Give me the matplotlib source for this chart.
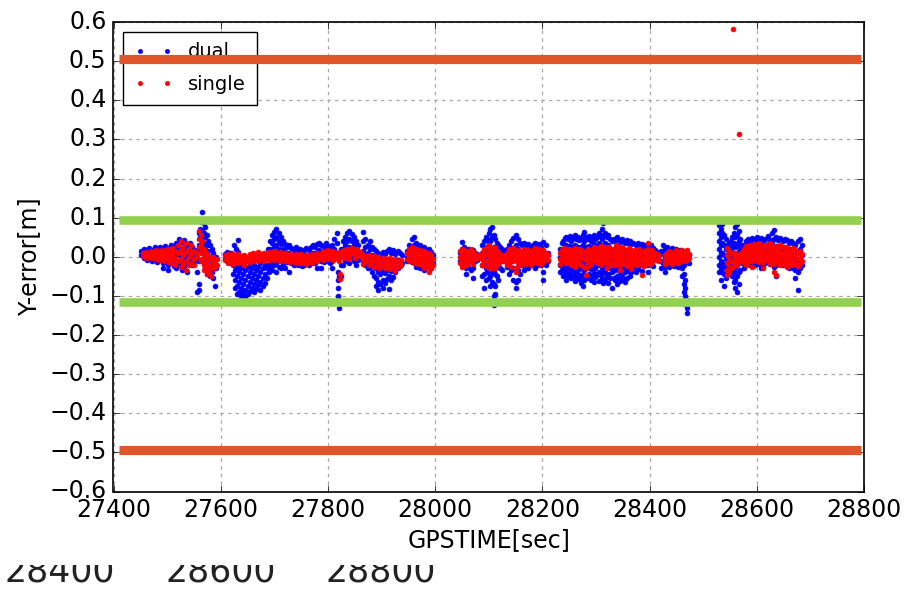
import numpy as np
import matplotlib
matplotlib.use("Agg")
import matplotlib.pyplot as plt
from matplotlib.patches import Rectangle

# ---------------- data ----------------
x_ticks = [27400, 27600, 27800, 28000, 28200, 28400, 28600, 28800]
y_ticks = [-0.6, -0.5, -0.4, -0.3, -0.2, -0.1, 0.0, 0.1, 0.2, 0.3, 0.4, 0.5, 0.6]
series_labels = ["dual", "single"]

# threshold bands
orange_levels = [0.505, -0.495]
green_levels = [0.093, -0.115]
band_x = [27411, 28795]

# dual-frequency Y error: time and the values observed around it
dual_time = [
    27452, 27457, 27462, 27467, 27472, 27477, 27482, 27487, 27492, 27497, 27502, 27507, 27512, 27517, 27522, 27527, 27532, 27537, 27542, 27547, 27552,
    27556, 27559, 27562, 27565, 27568, 27571, 27574, 27577, 27580, 27583, 27586, 27589, 27592,
    27608, 27612, 27616, 27620, 27624, 27628, 27632,
    27622, 27626, 27630, 27634, 27638, 27642, 27646, 27650, 27654, 27658, 27662, 27666, 27670, 27674, 27678, 27682, 27686, 27690,
    27688, 27692, 27696, 27700, 27704, 27708, 27712, 27716, 27720, 27724, 27728, 27732, 27736, 27740, 27744, 27748, 27752, 27756, 27760, 27764,
    27768, 27772, 27776, 27780, 27784, 27788, 27792, 27796, 27800, 27804, 27808, 27812, 27816, 27819, 27821, 27824, 27828, 27832, 27836, 27840,
    27844, 27848, 27852, 27856,
    27866, 27870, 27874, 27878, 27882, 27886, 27890, 27894, 27898, 27902, 27906, 27910, 27914, 27918, 27922, 27926, 27930, 27934, 27938,
    27948, 27952, 27956, 27960, 27964, 27968, 27972, 27976, 27980, 27984, 27988, 27992, 27996,
    28046, 28050, 28054, 28058, 28062, 28066, 28070, 28074, 28078,
    28088, 28091, 28094, 28097, 28100, 28103, 28106, 28109, 28112, 28115, 28118, 28121, 28124, 28127,
    28134, 28138, 28142, 28146, 28150, 28154, 28158, 28162, 28166, 28170, 28174, 28178, 28182, 28186, 28190, 28194, 28198, 28202, 28206, 28210,
    28233, 28236, 28239, 28242, 28245, 28248, 28251, 28254, 28257, 28260, 28263, 28266, 28269, 28272, 28275, 28278, 28281, 28284, 28287, 28290,
    28293, 28296, 28299, 28302, 28305, 28308, 28311, 28314, 28317, 28320, 28323, 28326, 28329,
    28333, 28336, 28339, 28342, 28345, 28348, 28351, 28354, 28357, 28360, 28363, 28366, 28370, 28374, 28378, 28382, 28386, 28390, 28394, 28398,
    28402, 28406, 28410, 28414,
    28421, 28425, 28429, 28433, 28437, 28441, 28445, 28449, 28453, 28457, 28461, 28464, 28467, 28470, 28473,
    28530, 28533, 28536, 28539, 28542, 28545, 28548, 28551, 28554, 28557, 28560, 28563, 28566, 28569, 28572,
    28576, 28580, 28584, 28588, 28592, 28596, 28600, 28604, 28608, 28612, 28616, 28620, 28624, 28628, 28632, 28636, 28640, 28644, 28648, 28652,
    28656, 28660, 28664, 28668, 28672, 28676, 28680, 28684,
]
dual_yerr = [
    [0.015, 0.005], [0.020, 0.008, -0.004], [0.018, 0.002, -0.008], [0.022, 0.010, -0.002], [0.016, 0.004, -0.010],
    [0.024, 0.012, -0.004], [0.018, 0.000, -0.014], [0.026, 0.010, -0.008], [0.020, 0.002, -0.016, -0.028], [0.028, 0.012, -0.010],
    [0.022, 0.004, -0.020, -0.035], [0.030, 0.010, -0.012], [0.024, 0.002, -0.024], [0.034, 0.014, -0.014, -0.030],
    [0.045, 0.026, 0.004, -0.022], [0.038, 0.016, -0.010, -0.034], [0.042, 0.020, -0.004, -0.028], [0.030, 0.008, -0.018, -0.038],
    [0.036, 0.014, -0.010], [0.026, 0.004, -0.020], [0.018, 0.000, -0.012],
    [0.010, -0.040, -0.089], [0.060, 0.030, -0.010, -0.070, -0.085], [0.095, 0.070, 0.050, 0.020], [0.114, 0.090, 0.065, 0.040, 0.015],
    [0.085, 0.060, 0.035, 0.010, -0.015], [0.075, 0.050, 0.025, 0.000, -0.030], [0.055, 0.030, 0.005, -0.020, -0.045],
    [0.040, 0.015, -0.010, -0.035], [0.030, 0.000, -0.025, -0.050], [0.020, -0.010, -0.040], [0.010, -0.020, -0.055],
    [-0.030, -0.076], [0.000, -0.030],
    [0.008, -0.006], [0.012, 0.000, -0.012], [0.006, -0.008], [0.010, -0.004, -0.016], [0.030, 0.004, -0.010],
    [0.020, 0.000, -0.014], [0.043, 0.012, -0.006],
    [-0.020, -0.045], [-0.035, -0.060, -0.080], [-0.025, -0.050, -0.075, -0.095], [-0.015, -0.040, -0.065, -0.090],
    [-0.030, -0.055, -0.080, -0.100], [-0.020, -0.045, -0.070, -0.092], [-0.035, -0.060, -0.085, -0.104],
    [-0.025, -0.050, -0.075, -0.095], [-0.015, -0.040, -0.065, -0.088], [-0.030, -0.055, -0.080],
    [-0.020, -0.045, -0.070, -0.090], [-0.035, -0.060, -0.082], [-0.025, -0.050, -0.072], [-0.015, -0.040, -0.065, -0.085],
    [-0.030, -0.055, -0.075], [-0.020, -0.045, -0.068], [-0.030, -0.055], [-0.020, -0.040],
    [0.020, 0.000, -0.020], [0.040, 0.020, 0.000, -0.025], [0.055, 0.035, 0.012, -0.012, -0.035], [0.063, 0.045, 0.025, 0.005, -0.020],
    [0.070, 0.050, 0.030, 0.010, -0.015, -0.040], [0.060, 0.040, 0.020, 0.000, -0.025], [0.050, 0.032, 0.012, -0.010, -0.030],
    [0.040, 0.020, 0.000, -0.020], [0.032, 0.012, -0.008, -0.028], [0.025, 0.006, -0.014], [0.030, 0.010, -0.010, -0.040],
    [0.022, 0.004, -0.016], [0.018, 0.000, -0.020], [0.024, 0.006, -0.014], [0.016, -0.002, -0.022], [0.020, 0.002, -0.018],
    [0.014, -0.004, -0.024], [0.018, 0.000, -0.020], [0.022, 0.004, -0.016], [0.016, -0.002, -0.022],
    [0.024, 0.006, -0.014], [0.030, 0.010, -0.010], [0.026, 0.006, -0.016], [0.032, 0.012, -0.008, -0.028], [0.036, 0.016, -0.004],
    [0.030, 0.010, -0.012, -0.030], [0.026, 0.006, -0.014], [0.034, 0.014, -0.006], [0.028, 0.008, -0.012], [0.024, 0.004, -0.016],
    [0.030, 0.010, -0.010, -0.030], [0.045, 0.020, -0.005], [0.060, 0.035, 0.010], [-0.040, -0.060, -0.080, -0.100],
    [-0.110, -0.131, -0.050], [0.020, -0.020, -0.050], [0.040, 0.020, 0.000, -0.020], [0.050, 0.030, 0.010, -0.010],
    [0.060, 0.040, 0.020, 0.000], [0.066, 0.045, 0.025, 0.005, -0.015],
    [0.059, 0.040, 0.020, 0.000], [0.050, 0.030, 0.010, -0.010], [0.040, 0.020, 0.000, -0.020], [0.030, 0.012, -0.008],
    [0.064, 0.040, 0.015, -0.010], [0.045, 0.025, 0.005, -0.020], [0.030, 0.010, -0.010, -0.030], [0.040, 0.020, 0.000, -0.025],
    [0.025, 0.005, -0.018, -0.040], [0.020, 0.000, -0.025, -0.050], [0.015, -0.008, -0.030, -0.055, -0.075],
    [0.010, -0.015, -0.040, -0.065, -0.085], [0.005, -0.020, -0.045, -0.070], [0.012, -0.012, -0.035, -0.060, -0.080],
    [0.008, -0.018, -0.042, -0.068], [0.015, -0.010, -0.035, -0.058], [0.020, -0.005, -0.030, -0.050, -0.082],
    [0.010, -0.012, -0.036, -0.060], [0.016, -0.008, -0.030, -0.052], [0.008, -0.016, -0.040], [0.014, -0.008, -0.030],
    [0.010, -0.010, -0.024], [0.005, -0.015],
    [0.015, 0.000, -0.012], [0.030, 0.010, -0.008], [0.045, 0.022, 0.004, -0.014], [0.050, 0.030, 0.010, -0.010],
    [0.035, 0.015, -0.005, -0.025], [0.025, 0.005, -0.015], [0.030, 0.010, -0.010, -0.030], [0.022, 0.002, -0.018],
    [0.026, 0.006, -0.014, -0.034], [0.018, 0.000, -0.020], [0.020, -0.002, -0.025], [0.012, -0.008, -0.030], [0.005, -0.015],
    [0.010, -0.010], [0.038, 0.020, 0.000, -0.015], [0.025, 0.005, -0.020], [0.015, -0.005, -0.030, -0.045], [0.020, 0.000, -0.025],
    [0.012, -0.010, -0.035], [0.018, -0.004, -0.030, -0.055], [0.010, -0.010], [0.006, -0.008],
    [0.030, 0.010, -0.020, -0.050], [0.040, 0.015, -0.015, -0.045, -0.080], [0.050, 0.025, 0.000, -0.030, -0.060],
    [0.045, 0.020, -0.010, -0.040], [0.060, 0.035, 0.005, -0.025, -0.055], [0.070, 0.040, 0.010, -0.020, -0.050, -0.075],
    [0.076, 0.050, 0.020, -0.010, -0.040, -0.065], [0.055, 0.025, -0.005, -0.035, -0.070, -0.100, -0.123],
    [0.045, 0.015, -0.015, -0.045, -0.075, -0.095], [0.035, 0.010, -0.020, -0.050], [0.030, 0.005, -0.025, -0.060],
    [0.025, 0.000, -0.030], [0.020, -0.005, -0.035], [0.015, -0.010],
    [0.020, 0.000, -0.025], [0.030, 0.005, -0.020, -0.045], [0.040, 0.015, -0.010, -0.035], [0.048, 0.022, -0.005, -0.030, -0.060],
    [0.055, 0.030, 0.000, -0.030, -0.065, -0.080], [0.045, 0.020, -0.008, -0.035, -0.060], [0.035, 0.010, -0.018, -0.045],
    [0.030, 0.005, -0.020], [0.035, 0.012, -0.012, -0.035], [0.028, 0.004, -0.022], [0.032, 0.010, -0.014, -0.030],
    [0.025, 0.002, -0.022], [0.030, 0.008, -0.016], [0.036, 0.014, -0.008, -0.028], [0.028, 0.004, -0.020],
    [0.032, 0.010, -0.012], [0.024, 0.002, -0.022], [0.038, 0.014, -0.010, -0.040, -0.059], [0.030, 0.006, -0.020], [0.010, -0.010],
    [0.020, 0.000, -0.020, -0.040], [0.035, 0.010, -0.015, -0.035], [0.040, 0.018, -0.005, -0.030, -0.050],
    [0.048, 0.025, 0.000, -0.025, -0.045], [0.050, 0.030, 0.005, -0.020, -0.040, -0.060], [0.045, 0.020, -0.005, -0.030, -0.050],
    [0.052, 0.028, 0.004, -0.022, -0.045], [0.040, 0.015, -0.010, -0.035, -0.055], [0.048, 0.024, 0.000, -0.025, -0.048],
    [0.055, 0.030, 0.006, -0.018, -0.040, -0.062], [0.045, 0.020, -0.005, -0.030, -0.052], [0.050, 0.026, 0.002, -0.022, -0.045],
    [0.042, 0.018, -0.008, -0.032, -0.058], [0.048, 0.024, 0.000, -0.026, -0.050, -0.068], [0.055, 0.030, 0.005, -0.020, -0.045, -0.076],
    [0.063, 0.040, 0.015, -0.010, -0.035, -0.060], [0.050, 0.025, 0.000, -0.025, -0.050], [0.045, 0.020, -0.006, -0.030, -0.055],
    [0.052, 0.028, 0.004, -0.020, -0.045], [0.040, 0.016, -0.008, -0.032, -0.060],
    [0.048, 0.024, 0.000, -0.025, -0.050], [0.055, 0.032, 0.008, -0.018, -0.042, -0.065], [0.045, 0.020, -0.004, -0.028, -0.052],
    [0.050, 0.026, 0.002, -0.022, -0.046], [0.060, 0.036, 0.012, -0.014, -0.040, -0.062], [0.052, 0.028, 0.004, -0.020, -0.045],
    [0.070, 0.045, 0.020, -0.005, -0.030, -0.055], [0.085, 0.055, 0.030, 0.006, -0.018, -0.042, -0.066],
    [0.060, 0.035, 0.010, -0.015, -0.040, -0.060], [0.050, 0.025, 0.000, -0.025, -0.050], [0.055, 0.030, 0.006, -0.020, -0.044, -0.068],
    [0.045, 0.020, -0.006, -0.030, -0.055], [0.040, 0.014, -0.012, -0.038, -0.080],
    [0.045, 0.020, -0.005, -0.030, -0.055], [0.040, 0.015, -0.010, -0.035, -0.060], [0.050, 0.025, 0.000, -0.025, -0.050, -0.070],
    [0.045, 0.020, -0.005, -0.030, -0.055], [0.038, 0.012, -0.012, -0.038, -0.062], [0.046, 0.022, -0.002, -0.026, -0.050],
    [0.040, 0.016, -0.008, -0.034, -0.058], [0.035, 0.010, -0.014, -0.040, -0.065], [0.042, 0.018, -0.006, -0.030, -0.055],
    [0.036, 0.012, -0.012, -0.036], [0.040, 0.016, -0.008, -0.032, -0.050], [0.032, 0.008, -0.016, -0.040],
    [0.036, 0.012, -0.010, -0.030], [0.030, 0.006, -0.018, -0.038], [0.034, 0.010, -0.012, -0.032], [0.028, 0.004, -0.020],
    [0.032, 0.008, -0.014, -0.036], [0.026, 0.002, -0.022], [0.030, 0.006, -0.016], [0.024, 0.000, -0.020, -0.040],
    [0.030, 0.008, -0.012], [0.022, 0.000, -0.024], [0.018, -0.004], [0.012, -0.008],
    [0.015, -0.010, -0.030], [0.030, 0.008, -0.015], [0.020, 0.000, -0.025, -0.040], [0.025, 0.004, -0.018], [0.018, -0.004, -0.025],
    [0.022, 0.002, -0.020], [0.016, -0.004, -0.024], [0.020, 0.000, -0.020], [0.014, -0.006, -0.026], [0.018, -0.002, -0.022],
    [0.012, -0.010, -0.030, -0.050], [-0.020, -0.045, -0.070, -0.090], [-0.060, -0.080, -0.100, -0.120], [-0.110, -0.130, -0.143],
    [0.005, -0.015],
    [0.080, 0.060, 0.040, 0.020, 0.000, -0.020, -0.040], [0.070, 0.050, 0.030, 0.010, -0.010, -0.030, -0.060],
    [0.083, 0.060, 0.035, 0.010, -0.015, -0.040], [0.055, 0.030, 0.005, -0.020, -0.045, -0.076], [0.045, 0.020, -0.005, -0.030, -0.055],
    [0.030, 0.005, -0.020], [0.035, 0.010, -0.015], [0.040, 0.015, -0.010, -0.035], [0.050, 0.025, 0.000, -0.025, -0.050],
    [0.060, 0.035, 0.010, -0.015, -0.040, -0.065], [0.075, 0.050, 0.025, 0.000, -0.030, -0.060, -0.080],
    [0.083, 0.055, 0.030, 0.005, -0.020, -0.050, -0.089], [0.065, 0.040, 0.015, -0.010, -0.040, -0.070],
    [0.045, 0.020, -0.005, -0.035], [0.030, 0.010, -0.015],
    [0.030, 0.010, -0.010, -0.030], [0.040, 0.020, 0.000, -0.020], [0.045, 0.025, 0.005, -0.015], [0.038, 0.018, -0.002, -0.022],
    [0.048, 0.028, 0.008, -0.012], [0.042, 0.022, 0.002, -0.020], [0.050, 0.030, 0.010, -0.010], [0.044, 0.024, 0.004, -0.018],
    [0.048, 0.028, 0.008, -0.014, -0.030], [0.040, 0.020, 0.000, -0.022], [0.046, 0.026, 0.006, -0.016], [0.052, 0.032, 0.012, -0.010],
    [0.044, 0.024, 0.004, -0.018], [0.060, 0.038, 0.018, -0.004], [0.068, 0.045, 0.022, 0.000, -0.025], [0.050, 0.028, 0.006, -0.020, -0.050],
    [0.044, 0.024, 0.004, -0.018], [0.048, 0.028, 0.008, -0.014], [0.040, 0.020, 0.000, -0.022], [0.046, 0.026, 0.004, -0.018],
    [0.042, 0.022, 0.000, -0.024], [0.036, 0.016, -0.006, -0.028], [0.040, 0.020, -0.002, -0.024], [0.034, 0.014, -0.008, -0.030],
    [0.030, 0.010, -0.012, -0.035, -0.055], [0.040, 0.015, -0.010, -0.040, -0.084], [0.045, 0.020, -0.005, -0.030], [0.030, 0.005, -0.020],
]

# single-frequency Y error
single_time = [
    27455, 27460, 27465, 27470, 27475, 27480, 27485, 27490, 27495, 27500, 27505, 27510, 27515, 27520, 27525, 27530, 27535, 27540, 27545, 27550, 27555,
    27560, 27563, 27566, 27569, 27572, 27575, 27578, 27582, 27586, 27590, 27594,
    27608, 27613, 27618, 27623, 27628, 27633, 27638, 27643, 27648, 27655, 27660, 27665, 27670, 27675, 27680, 27685, 27690, 27695, 27700, 27705,
    27710, 27715, 27720, 27725, 27730, 27735, 27740, 27745, 27750, 27755, 27760, 27765, 27770, 27775, 27780, 27785, 27790, 27795, 27800, 27805,
    27810, 27815, 27820, 27823, 27826, 27830, 27835, 27840, 27845, 27850, 27855, 27860,
    27866, 27871, 27876, 27881, 27886, 27891, 27896, 27901, 27906, 27911, 27916, 27921, 27926, 27931, 27936,
    27948, 27952, 27956, 27960, 27964, 27968, 27972, 27976, 27980, 27984, 27988, 27992, 27996,
    28046, 28050, 28054, 28058, 28062, 28066, 28070, 28074, 28078, 28082,
    28088, 28092, 28096, 28100, 28104, 28108, 28112, 28116, 28120, 28124, 28128,
    28134, 28138, 28142, 28146, 28150, 28154, 28158, 28162, 28166, 28170, 28174, 28178, 28182, 28186, 28190, 28194, 28198, 28202, 28206, 28210,
    28233, 28237, 28241, 28245, 28249, 28253, 28257, 28261, 28265, 28269, 28273, 28277, 28281, 28285, 28289, 28293, 28297, 28301, 28305, 28309,
    28313, 28317, 28321, 28325, 28329,
    28333, 28337, 28341, 28345, 28349, 28353, 28357, 28361, 28365, 28369, 28373, 28377, 28381, 28385, 28389, 28393, 28397, 28401, 28405, 28409,
    28413, 28417,
    28429, 28433, 28437, 28441, 28445, 28449, 28453, 28457, 28461, 28465, 28469, 28473,
    28544, 28548, 28552, 28556, 28560, 28564, 28568, 28572,
    28576, 28580, 28584, 28588, 28592, 28596, 28600, 28604, 28608, 28612, 28616, 28620, 28624, 28628, 28632, 28636, 28640, 28644, 28648, 28652,
    28656, 28660, 28664, 28668, 28672, 28676, 28680, 28684,
    28555, 28566,
]
single_yerr = [
    [0.010, 0.002], [0.012, 0.004, -0.004], [0.008, 0.000], [0.014, 0.005, -0.003], [0.010, 0.002], [0.016, 0.006, -0.005],
    [0.012, 0.000, -0.008], [0.018, 0.007, -0.002], [0.010, -0.004, -0.012], [0.020, 0.008, -0.006], [0.012, 0.000, -0.015],
    [0.022, 0.006, -0.010], [0.015, -0.002, -0.020], [0.030, 0.010, -0.010], [0.040, 0.018, -0.005, -0.025], [0.025, 0.005, -0.018],
    [0.035, 0.012, -0.010, -0.035], [0.020, 0.000, -0.022], [0.030, 0.008, -0.015], [0.015, -0.005, -0.020], [0.010, 0.000],
    [0.065, 0.045, 0.025], [0.055, 0.030, 0.010, -0.010], [0.040, 0.015, -0.005], [0.020, 0.000, -0.020, -0.035],
    [0.010, -0.015, -0.030], [0.005, -0.010, -0.025, -0.045], [0.000, -0.020, -0.040], [-0.005, -0.025, -0.050],
    [0.000, -0.015, -0.030], [-0.010, -0.025], [-0.005, -0.020],
    [0.005, -0.008], [0.008, -0.004, -0.015], [0.004, -0.010], [0.006, -0.006, -0.018], [0.002, -0.012], [0.006, -0.004, -0.016],
    [0.003, -0.010], [0.005, -0.008, -0.020], [0.000, -0.012], [0.008, -0.004, -0.014], [0.010, 0.000, -0.010], [0.006, -0.006],
    [0.012, 0.002, -0.010], [0.008, -0.004], [0.010, 0.000, -0.012], [0.006, -0.006], [0.012, 0.002, -0.008], [0.008, -0.004],
    [0.014, 0.004, -0.008], [0.010, -0.002],
    [0.012, 0.002, -0.010], [0.006, -0.006], [0.010, 0.000, -0.012], [0.004, -0.008], [0.008, -0.002, -0.014], [0.004, -0.010],
    [0.006, -0.004, -0.016], [0.002, -0.010], [0.006, -0.006, -0.016], [0.000, -0.012], [0.004, -0.008, -0.018], [0.002, -0.012],
    [0.006, -0.006, -0.016], [0.004, -0.008], [0.010, -0.002, -0.012], [0.008, -0.004], [0.014, 0.002, -0.008], [0.010, -0.002],
    [0.016, 0.006, -0.006], [0.012, 0.000],
    [0.014, 0.004, -0.008], [0.010, -0.002], [0.012, 0.000, -0.010], [-0.045, -0.058], [0.014, 0.004], [0.018, 0.006, -0.004],
    [0.020, 0.008], [0.016, 0.004, -0.006], [0.022, 0.010], [0.018, 0.006, -0.004], [0.020, 0.008], [0.012, 0.002],
    [0.005, -0.008, -0.018], [0.002, -0.012], [0.004, -0.010, -0.022], [0.000, -0.014], [0.002, -0.012, -0.025], [-0.004, -0.018],
    [0.000, -0.014, -0.028], [-0.006, -0.020], [-0.002, -0.016, -0.030], [-0.008, -0.022], [-0.004, -0.018, -0.032],
    [-0.010, -0.024], [-0.006, -0.020, -0.036], [-0.012, -0.026], [-0.008, -0.022],
    [0.010, -0.005], [0.020, 0.005, -0.010], [0.025, 0.010, -0.005], [0.015, 0.000, -0.015], [0.020, 0.005, -0.010],
    [0.012, -0.002, -0.018], [0.018, 0.004, -0.012], [0.010, -0.006, -0.022], [0.014, 0.000, -0.015, -0.030],
    [0.006, -0.010, -0.025], [0.010, -0.005, -0.020, -0.040], [0.004, -0.012, -0.028], [-0.005, -0.020],
    [0.015, 0.000, -0.015], [0.020, 0.005, -0.010, -0.025], [0.018, 0.002, -0.014], [0.010, -0.005, -0.020], [0.015, 0.000, -0.015],
    [0.020, 0.004, -0.012], [0.012, -0.004, -0.018], [0.008, -0.006], [0.004, -0.004], [0.002],
    [0.010, -0.005, -0.020], [0.020, 0.005, -0.012], [0.025, 0.008, -0.010, -0.025], [0.030, 0.012, -0.005, -0.020],
    [0.022, 0.004, -0.014, -0.030], [0.018, 0.000, -0.018], [0.025, 0.006, -0.012, -0.028], [0.015, -0.002, -0.020],
    [0.010, -0.005, -0.015], [0.005, -0.008], [0.000, -0.010],
    [0.010, -0.005, -0.020], [0.020, 0.002, -0.015], [0.015, -0.004, -0.025], [0.022, 0.005, -0.012], [0.012, -0.006, -0.030, -0.040],
    [0.018, 0.002, -0.016], [0.010, -0.008, -0.022], [0.015, 0.000, -0.015], [0.020, 0.006, -0.010], [0.012, -0.002, -0.018],
    [0.018, 0.004, -0.012], [0.010, -0.004, -0.020], [0.016, 0.002, -0.014], [0.022, 0.008, -0.008], [0.014, 0.000, -0.016],
    [0.020, 0.006, -0.010], [0.012, -0.004, -0.018], [0.018, 0.002, -0.014], [0.010, -0.006], [0.004, -0.008],
    [0.010, -0.005, -0.018], [0.018, 0.002, -0.012], [0.022, 0.006, -0.010], [0.015, 0.000, -0.016], [0.020, 0.004, -0.012],
    [0.012, -0.004, -0.020], [0.018, 0.002, -0.014], [0.022, 0.006, -0.010, -0.025], [0.014, -0.002, -0.018], [0.020, 0.004, -0.014],
    [0.016, 0.000, -0.020], [0.010, -0.006, -0.025], [0.014, -0.002, -0.030, -0.047], [0.020, 0.004, -0.014], [0.012, -0.004, -0.020],
    [0.018, 0.002, -0.012], [0.024, 0.008, -0.008], [0.016, 0.000, -0.016], [0.022, 0.006, -0.010], [0.028, 0.012, -0.004, -0.020],
    [0.020, 0.004, -0.014], [0.026, 0.010, -0.006], [0.018, 0.002, -0.016, -0.030], [0.024, 0.006, -0.010], [0.016, 0.000, -0.020],
    [0.020, 0.004, -0.014], [0.030, 0.012, -0.006, -0.022], [0.024, 0.006, -0.012], [0.018, 0.000, -0.020, -0.035],
    [0.026, 0.010, -0.008], [0.020, 0.002, -0.016], [0.014, -0.004, -0.024], [0.022, 0.006, -0.012], [0.016, 0.000, -0.020, -0.032],
    [0.010, -0.006, -0.018], [0.018, 0.002, -0.014], [0.012, -0.004, -0.022], [0.020, 0.004, -0.012], [0.014, -0.002, -0.020, -0.047],
    [0.008, -0.008, -0.024], [0.016, 0.000, -0.016], [0.036, 0.020, 0.004, -0.012], [0.012, -0.004, -0.018], [0.018, 0.002, -0.014],
    [0.010, -0.006], [0.006, -0.008], [0.002, -0.010],
    [0.005, -0.008, -0.018], [0.010, -0.004, -0.014], [0.014, 0.000, -0.012], [0.008, -0.006, -0.018], [0.012, 0.000, -0.010],
    [0.016, 0.004, -0.008], [0.010, -0.004, -0.016], [0.014, 0.002, -0.010], [0.018, 0.006, -0.006], [0.012, 0.000, -0.012],
    [0.016, 0.004, -0.008], [0.008, -0.004],
    [0.022, 0.005, -0.015, -0.035, -0.046], [0.015, -0.005, -0.025, -0.040], [0.010, -0.010, -0.030], [0.005, -0.012, -0.025],
    [0.010, -0.005, -0.018], [0.004, -0.010, -0.022], [0.008, -0.006], [0.012, -0.002, -0.014],
    [0.020, 0.004, -0.012], [0.028, 0.010, -0.006, -0.020], [0.022, 0.004, -0.014], [0.030, 0.014, -0.004],
    [0.024, 0.006, -0.012, -0.026], [0.032, 0.016, 0.000], [0.026, 0.008, -0.010], [0.036, 0.018, 0.002, -0.014],
    [0.028, 0.010, -0.008], [0.022, 0.004, -0.014, -0.030], [0.030, 0.012, -0.004], [0.024, 0.006, -0.012],
    [0.034, 0.016, 0.000, -0.018], [0.026, 0.008, -0.010], [0.020, 0.002, -0.018, -0.040], [0.028, 0.010, -0.008, -0.046],
    [0.022, 0.004, -0.014], [0.030, 0.012, -0.004, -0.020], [0.024, 0.006, -0.012], [0.018, 0.000, -0.018],
    [0.026, 0.008, -0.010, -0.026], [0.020, 0.002, -0.016], [0.014, -0.004, -0.022], [0.022, 0.004, -0.012],
    [0.016, 0.000, -0.018], [0.010, -0.006, -0.024], [0.014, -0.002, -0.016], [0.006, -0.010],
    [0.581], [0.314],
]


def flatten(times, values):
    xs = np.repeat(np.asarray(times, float), [len(v) for v in values])
    ys = np.concatenate([np.asarray(v, float) for v in values])
    return xs, ys


dual_x, dual_y = flatten(dual_time, dual_yerr)
single_x, single_y = flatten(single_time, single_yerr)

# ---------------- figure ----------------
plt.style.use("classic")
plt.rcParams["font.family"] = ["DejaVu Sans"]
plt.rcParams["axes.unicode_minus"] = True

fig = plt.figure(figsize=(9.2, 5.91), dpi=100, facecolor="white")
ax = fig.add_axes([113.5 / 920, 1 - 491.5 / 591, (864 - 113.5) / 920, (491.5 - 22) / 591])
ax.set_facecolor("white")

ax.plot(dual_x, dual_y, ".", color="#0000ff", ms=7, mew=0.5, mec="#0000ff", label=series_labels[0], zorder=3)
ax.plot(single_x, single_y, ".", color="#ff0000", ms=7, mew=0.5, mec="#ff0000", label=series_labels[1], zorder=4)

for lv in orange_levels:
    ax.plot(band_x, [lv, lv], color="#e0562a", lw=6.6, solid_capstyle="butt", zorder=7)
for lv in green_levels:
    ax.plot(band_x, [lv, lv], color="#92d050", lw=6.2, solid_capstyle="butt", zorder=7)

ax.set_xlim(27400, 28800)
ax.set_ylim(-0.6, 0.6)
ax.set_xticks(x_ticks)
ax.set_yticks(y_ticks)
ax.tick_params(labelsize=17, direction="in", length=5, top=True, right=True, pad=5)
ax.grid(True, color="#a8a8a8", linestyle=(0, (2.5, 3)), linewidth=0.9)
ax.set_axisbelow(True)
ax.set_xlabel("GPSTIME[sec]", fontsize=17, labelpad=4)
ax.set_ylabel("Y-error[m]", fontsize=17, labelpad=6)
for sp in ax.spines.values():
    sp.set_linewidth(1.2)

leg = ax.legend(loc="upper left", numpoints=2, fontsize=14, frameon=True, fancybox=False,
                handlelength=2.0, handletextpad=0.8, borderpad=0.55, labelspacing=0.7,
                borderaxespad=0.5, markerscale=0.85)
leg.get_frame().set_edgecolor("black")
leg.get_frame().set_linewidth(1.0)
leg.set_zorder(5)

# cropped fragment of another chart's tick labels at the bottom edge:
# only the lower part of the glyphs is visible, so a white strip hides their tops
for xp, s in [(5, "28400"), (166, "28600"), (325, "28800")]:
    fig.text(xp / 920, 10 / 591, s, fontsize=25, va="baseline", ha="left", color="#222222", zorder=3)
cover = Rectangle((0, 26 / 591), 450 / 920, 14 / 591, transform=fig.transFigure,
                  facecolor="white", edgecolor="none", zorder=10)
fig.add_artist(cover)

fig.savefig("out.png", dpi=100, facecolor="white")
